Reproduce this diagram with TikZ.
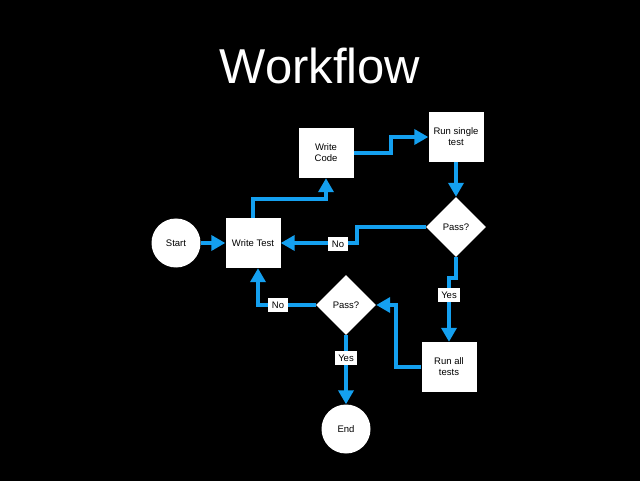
\documentclass[tikz,border=0pt]{standalone}
\usepackage{fontspec}
\setmainfont{Liberation Sans}
\usetikzlibrary{arrows.meta,shapes.geometric}
\definecolor{flowblue}{RGB}{20,160,240}
\begin{document}
\begin{tikzpicture}[x=1pt,y=-1pt,
  box/.style={fill=white,minimum width=55pt,minimum height=50pt,align=center,inner sep=0pt,font=\fontsize{9.5}{11}\selectfont},
  term/.style={circle,fill=white,minimum size=49pt,inner sep=0pt,font=\fontsize{9.5}{11}\selectfont},
  decision/.style={diamond,fill=white,minimum width=60pt,minimum height=60pt,inner sep=0pt,font=\fontsize{9.5}{11}\selectfont},
  lbl/.style={fill=white,inner sep=3.5pt,font=\fontsize{9.5}{10}\selectfont},
  flow/.style={draw=flowblue,line width=4pt,-{Triangle[length=14pt,width=15pt]}}]
\fill[black] (0,0) rectangle (640,481);
\useasboundingbox (0,0) rectangle (640,481);

\node[text=white,anchor=base,font=\fontsize{49}{50}\selectfont] (title) at (320,84) {Workflow};

\node[term] (start) at (176,243) {Start};
\node[box] (wt) at (253,243) {Write Test};
\node[box] (wc) at (326,153) {Write\\Code};
\node[box] (rs) at (456,137) {Run single\\test};
\node[decision] (p1) at (456,227) {Pass?};
\node[box] (ra) at (449,367) {Run all\\tests};
\node[decision] (p2) at (346,305) {Pass?};
\node[term] (end) at (346,429) {End};

\draw[flow] (start.east) -- (wt.west);
\draw[flow] (wt.north) -- ++(0,-19) -| (wc.south);
\draw[flow] (wc.east) -- ++(37,0) |- (rs.west);
\draw[flow] (rs.south) -- (p1.north);
\draw[flow] (p1.west) -- ++(-69,0) |- (wt.east);
\draw[flow] (p1.south) -- ++(0,21) -| (ra.north);
\draw[flow] (ra.west) -- ++(-25,0) |- (p2.east);
\draw[flow] (p2.west) -| ([xshift=5pt]wt.south);
\draw[flow] (p2.south) -- (end.north);

\node[lbl] (no1) at (338,244) {No};
\node[lbl] (yes1) at (449,295) {Yes};
\node[lbl] (no2) at (278,305) {No};
\node[lbl] (yes2) at (346,358) {Yes};
\end{tikzpicture}
\end{document}
